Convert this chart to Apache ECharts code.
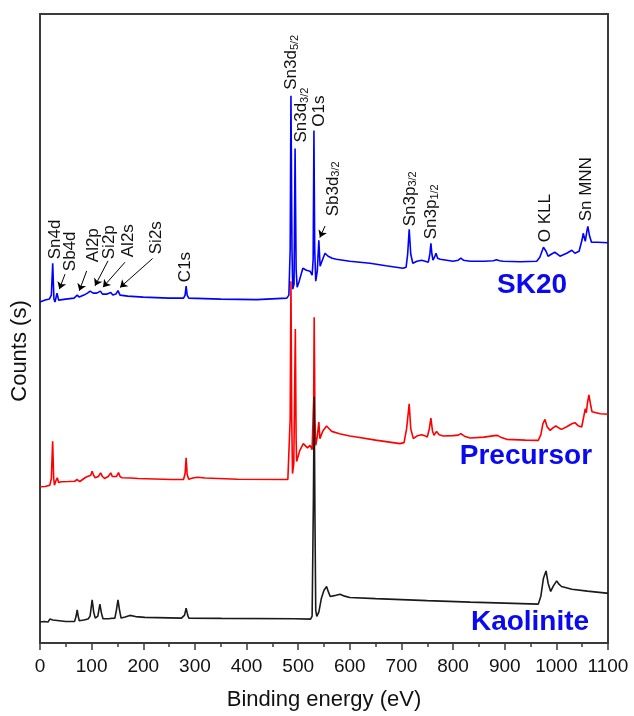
<!DOCTYPE html>
<html>
<head>
<meta charset="utf-8">
<script src="https://cdn.jsdelivr.net/npm/echarts@6/dist/echarts.min.js"></script>
<style>
  html, body { margin: 0; padding: 0; background: #fff; }
  #main { width: 634px; height: 716px; }
</style>
</head>
<body>
<div id="main"></div>
<script>
// binding energy (eV), counts (arb. units, offset stacked)
var sk20 = [[0,342],[10,344],[18,345],[22,349],[24.6,381],[27,345],[29,342],[33,351],[36,344],[50,345],[66,346],[72,349],[76,347],[85,349],[92,351],[97,353],[100,355],[103,351],[110,351],[117,353],[121,350],[130,350],[137,351.5],[141,349],[147,350],[151,353.5],[155,349],[170,348],[200,347],[250,346],[278,346],[281,349],[283,358],[285,349],[288,346],[350,345],[420,344.5],[478,346],[482,349],[484.5,395],[486,549],[488,395],[489.5,355],[492,360],[494,496],[496,375],[498,357],[502,363],[509,376],[516,374],[523,373],[527,369],[529,385],[530.5,514],[532,395],[534,363],[537,373],[540,404],[542.5,378],[546,383],[552,391],[558,388],[566,386],[574,385],[600,383],[639,381],[670,378.5],[703,376],[709,377],[712,390],[715,415],[718,390],[722,381],[730,383],[739,384],[746,383],[752,382],[755,390],[757,401],[759,390],[761,384],[764,387],[767,391],[770,386],[775,385],[800,383],[810,384],[815,386],[820,384],[833,383],[860,383],[878,383.5],[884,384.5],[890,383.5],[897,383],[930,382.5],[962,383],[968,387],[975,397],[980,393],[984,388],[990,390],[997,392],[1002,390],[1007,388],[1020,391],[1030,394],[1036,391],[1044,393],[1050,405],[1052,411],[1056,403],[1059,413],[1061,418],[1064,409],[1068,402],[1080,402],[1100,401.5]];

var precursor = [[0,156.7],[10,157],[19,158.3],[22,165],[24.5,202.3],[26.5,165],[28,158.3],[31,163],[33.5,165.7],[36,161],[41,161.7],[55,162],[67,162.3],[72,164],[74,165],[77,162],[80,162],[88,166],[93,167.3],[98,168],[101,172.3],[104,168],[107,165.7],[113,167],[117.5,170.7],[121,167],[125,165],[132,167],[137,170.7],[140,167],[143,165],[148,167],[152,171],[155,167],[159,165.7],[175,165.5],[190,165],[254,164],[278,164],[281,170],[283,185.7],[285,169],[288,164.3],[296,165.5],[305,166.3],[320,165.5],[383,164.3],[480,164],[482,165],[484.5,225],[486,363],[487.5,225],[489,170],[491.5,180],[494.5,315],[496,205],[497,182],[503,193],[510,200],[518,195.7],[523,198.3],[527,194],[528.5,193.3],[530,245],[531,326.7],[532.5,225],[534,198.3],[537,207],[540,221.7],[542,205],[548,213],[555,217.7],[560,215],[565,212.3],[580,210],[600,207.7],[613,206.7],[650,203.5],[697,200],[705,201],[710,215],[715,240],[718,215],[723,205],[731,208],[739,209],[745,208],[750,206.7],[754,215],[757,225.7],[760,213],[763,208.3],[768,212.3],[773,209],[781,207.7],[800,208],[810,208.5],[815,210],[822,207.5],[833,205.7],[860,206.5],[880,208],[886,208.3],[892,206.5],[904,204.3],[940,203.5],[965,203.3],[970,209],[974,220],[978,224.3],[982,217],[988,213.3],[994,216],[999,217.7],[1004,216],[1010,214.3],[1020,217],[1030,220],[1036,221],[1042,218],[1049,216.7],[1053,227],[1056,235],[1058,231],[1060,240],[1063,249],[1066,240],[1069,232],[1072,230],[1085,230],[1100,229.5]];

var kaolinite = [[0,21],[8,21.5],[15.5,21],[19,24],[22,25.7],[25,23],[28,21],[50,21.5],[67,21.7],[70,27],[72,33.3],[74,27],[76,22.3],[85,23],[93,24],[97,27],[101,43.3],[104,31],[107,25],[112,27],[116,39],[119,30],[122,24.3],[135,24.5],[145,25],[148,33],[151,43.3],[154,33],[157,25],[165,26],[174,27.7],[185,26.5],[203,25.7],[274,25],[280,28],[283,35],[286,28],[288,25],[351,24.7],[493,24.3],[524,24],[527,27],[529.5,145],[531,247],[532.5,125],[534,33],[536,26.7],[540,31],[545,45],[550,53],[555,56.7],[558,52],[562,46.7],[570,47.5],[581,49],[590,47],[600,45.7],[650,44.5],[700,43.5],[750,42.5],[833,41],[900,40],[965,39],[970,47],[975,65],[980,72.3],[984,60],[989,51.7],[994,57],[1000.6,62.3],[1005,59],[1010,56.7],[1030,54],[1060,52],[1097,50],[1100,50]];

// peak labels: [text, eV, counts at the foot of the label]
var peakLabels = [
  ['{n|Sn4d}', 29, 385],
  ['{n|Sb4d}', 59.5, 373],
  ['{n|Al2p}', 103, 382],
  ['{n|Si2p}', 133.6, 385],
  ['{n|Al2s}', 171, 387],
  ['{n|Si2s}', 226, 390],
  ['{n|C1s}', 281, 362],
  ['{n|Sn3d}{s|5/2}', 487, 555],
  ['{n|Sn3d}{s|3/2}', 507, 502],
  ['{n|O1s}', 541, 518],
  ['{n|Sb3d}{s|3/2}', 568, 428],
  ['{n|Sn3p}{s|3/2}', 716.5, 418],
  ['{n|Sn3p}{s|1/2}', 758.6, 405],
  ['{n|O KLL}', 978, 402],
  ['{n|Sn MNN}', 1058.7, 423]
];

// arrows from label to peak: [eV1, c1, eV2, c2]
var arrows = [
  [48.4, 370, 37.4, 355],
  [90.4, 373.3, 76.1, 353.3],
  [131.7, 383.3, 106.5, 358.3],
  [164.6, 382, 122, 357],
  [218, 385.7, 155, 356.7],
  [552, 418.3, 542, 406.7]
];

// sample names: [text, eV, counts]
var sampleNames = [
  ['SK20', 953, 359],
  ['Precursor', 941, 187],
  ['Kaolinite', 949, 21]
];

var xTicks = [0, 1100, 100];

var myChart = echarts.init(document.getElementById('main'));

var option = {
    animation: false,
    grid: {
        left: 40, right: 26, top: 14, bottom: 71,
        show: true,
        borderColor: '#3a3a3a',
        borderWidth: 2
    },
    xAxis: {
        type: 'value',
        min: xTicks[0],
        max: xTicks[1],
        interval: xTicks[2],
        name: 'Binding energy (eV)',
        nameLocation: 'middle',
        nameGap: 46,
        nameTextStyle: { fontFamily: 'Liberation Sans', fontSize: 22, color: '#111' },
        axisLine: { lineStyle: { color: '#3a3a3a', width: 2 } },
        axisTick: { length: 7, lineStyle: { color: '#3a3a3a', width: 1.5 } },
        minorTick: { show: true, splitNumber: 2, length: 4, lineStyle: { color: '#3a3a3a', width: 1.5 } },
        axisLabel: {
            fontFamily: 'Liberation Sans', fontSize: 19, color: '#111', margin: 14,
            formatter: function (v) { return String(v); }
        },
        splitLine: { show: false }
    },
    yAxis: {
        type: 'value',
        min: 0,
        max: 631,
        axisLine: { show: false },
        axisTick: { show: false },
        axisLabel: { show: false },
        splitLine: { show: false }
    },
    series: [
        {
            name: 'SK20', type: 'line', data: sk20,
            showSymbol: false, symbol: 'none',
            lineStyle: { color: '#0000ff', width: 1.6 },
            markLine: {
                silent: true,
                symbol: ['none', 'arrow'],
                symbolSize: 7,
                label: { show: false },
                lineStyle: { color: '#000', width: 1, type: 'solid' },
                data: arrows.map(function (a) {
                    return [{ coord: [a[0], a[1]] }, { coord: [a[2], a[3]] }];
                })
            }
        },
        {
            name: 'Precursor', type: 'line', data: precursor,
            showSymbol: false, symbol: 'none',
            lineStyle: { color: '#ff0000', width: 1.6 }
        },
        {
            name: 'Kaolinite', type: 'line', data: kaolinite,
            showSymbol: false, symbol: 'none',
            lineStyle: { color: '#1a1a1a', width: 1.6 }
        }
    ]
};
myChart.setOption(option);

// text overlays placed through the axes
var graphics = [];
peakLabels.forEach(function (p) {
    var pt = myChart.convertToPixel({ gridIndex: 0 }, [p[1], p[2]]);
    graphics.push({
        type: 'text', x: pt[0], y: pt[1], rotation: Math.PI / 2,
        style: {
            text: p[0], align: 'left', verticalAlign: 'middle',
            fill: '#111', fontFamily: 'Liberation Sans',
            rich: {
                n: { fontSize: 17, fontFamily: 'Liberation Sans', fill: '#111' },
                s: { fontSize: 11, fontFamily: 'Liberation Sans', fill: '#111', verticalAlign: 'bottom', padding: [6, 0, 0, 0] }
            }
        }
    });
});
sampleNames.forEach(function (s) {
    var pt = myChart.convertToPixel({ gridIndex: 0 }, [s[1], s[2]]);
    graphics.push({
        type: 'text', x: pt[0], y: pt[1],
        style: {
            text: s[0], align: 'center', verticalAlign: 'middle',
            fill: '#0a0af0', fontFamily: 'Liberation Sans', fontSize: 28, fontWeight: 'bold'
        }
    });
});
graphics.push({
    type: 'text', x: 20, y: 351, rotation: Math.PI / 2,
    style: {
        text: 'Counts (s)', align: 'center', verticalAlign: 'middle',
        fill: '#111', fontFamily: 'Liberation Sans', fontSize: 22
    }
});
myChart.setOption({ graphic: graphics });
</script>
</body>
</html>
